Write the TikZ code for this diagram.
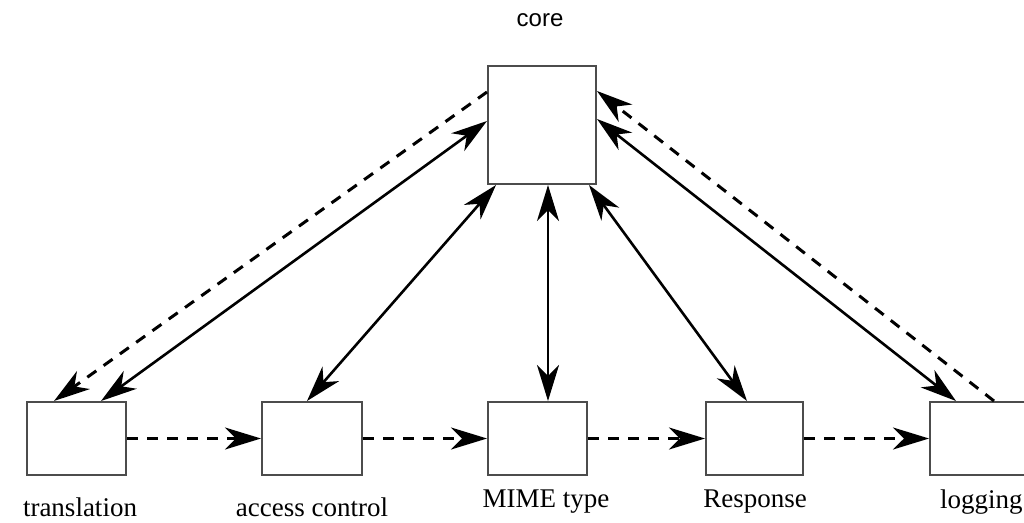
\documentclass[tikz,border=0pt]{standalone}
\usepackage{fontspec}
\setmainfont{Liberation Serif}
\newfontfamily\corefont{Liberation Sans}
\usetikzlibrary{arrows.meta,calc}
\begin{document}
\begin{tikzpicture}[x=1pt,y=-1pt,
  >={Stealth[length=36pt,width=22pt,inset=11pt]},
  box/.style={draw=black!70, line width=2pt, fill=white, inner sep=0pt, minimum width=#1, minimum height=73pt},
  conn/.style={line width=2.6pt, black},
  dconn/.style={conn, line width=3pt, dash pattern=on 11pt off 9pt},
  lab/.style={font=\fontsize{27}{30}\selectfont, inner sep=0pt}]
\useasboundingbox (0,0) rectangle (1024,522);
\clip (0,0) rectangle (1024,522);
% boxes
\node[box=108pt, minimum height=118pt] (core) at (542,125) {};
\node[box=99pt] (trans) at (76.5,438.5) {};
\node[box=100pt] (acc) at (312,438.5) {};
\node[box=99pt] (mime) at (537.5,438.5) {};
\node[box=97pt] (resp) at (754.5,438.5) {};
\node[box=99pt] (log) at (979.5,438.5) {};
% labels
\node[inner sep=0pt, font=\corefont\fontsize{24}{28}\selectfont] (lcore) at (540,20) {core};
\node[lab] (ltrans) at (80,507) {translation};
\node[lab] (lacc) at (312,507) {access control};
\node[lab] (lmime) at (546,502) {MIME type};
\node[lab] (lresp) at (755,502) {Response};
\node[lab, anchor=west] (llog) at (940,502) {logging};
% connectors core <-> bottom
\draw[dconn,->] ($(core.north west)+(0,27)$) -- ($(trans.north west)+(28,0)$);
\draw[conn,<->] ($(core.north west)+(0,56)$) -- ($(trans.north west)+(75,0)$);
\draw[conn,<->] ($(core.south west)+(9,0)$) -- ($(acc.north west)+(46,0)$);
\draw[conn,<->] ($(core.south west)+(61,0)$) -- ($(mime.north west)+(61,0)$);
\draw[conn,<->] ($(core.south east)+(-8,0)$) -- ($(resp.north west)+(42,0)$);
\draw[conn,<->] ($(core.north east)+(0,54)$) -- ($(log.north west)+(27,0)$);
\draw[dconn,->] ($(log.north west)+(65,0)$) -- ($(core.north east)+(0,26)$);
% pipeline
\draw[dconn,->] (trans.east) -- (acc.west);
\draw[dconn,->] (acc.east) -- (mime.west);
\draw[dconn,->] (mime.east) -- (resp.west);
\draw[dconn,->] (resp.east) -- (log.west);
\end{tikzpicture}
\end{document}
